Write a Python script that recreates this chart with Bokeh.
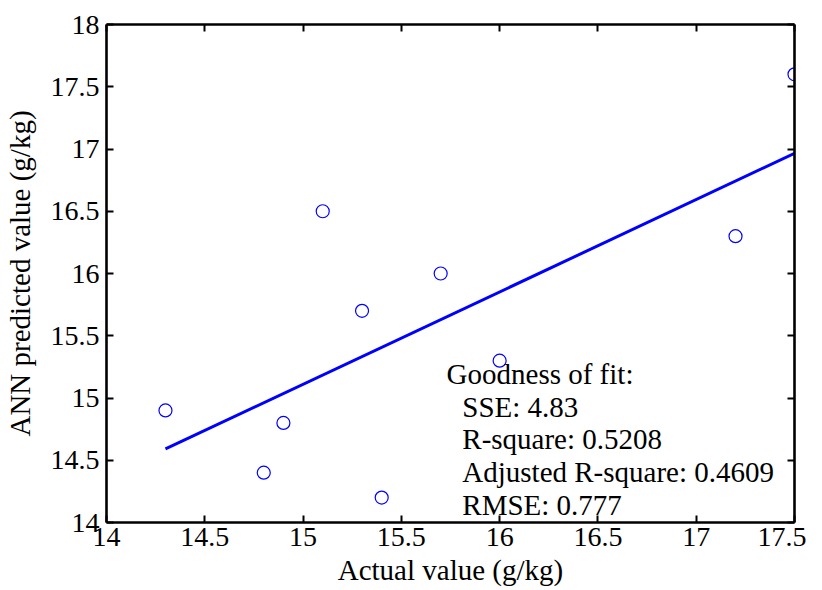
import numpy as np
from bokeh.plotting import figure
from bokeh.models import LinearAxis, FixedTicker, Range1d, Label, CustomLabelingPolicy
from bokeh.embed import file_html
from bokeh.resources import INLINE

# Data
actual = [14.3, 14.8, 14.9, 15.1, 15.3, 15.4, 15.7, 16.0, 17.2, 17.5]
predicted = [14.9, 14.4, 14.8, 16.5, 15.7, 14.2, 16.0, 15.3, 16.3, 17.6]
x_ticks = [14, 14.5, 15, 15.5, 16, 16.5, 17, 17.5]
y_ticks = [14, 14.5, 15, 15.5, 16, 16.5, 17, 17.5, 18]
fit_lines = ["Goodness of fit:", "SSE: 4.83", "R-square: 0.5208",
             "Adjusted R-square: 0.4609", "RMSE: 0.777"]

FONT = "Liberation Serif"
TICK_FS = "28px"
LAB_FS = "29px"

p = figure(width=806, height=590, output_backend="svg", toolbar_location=None,
           x_range=Range1d(14, 17.5), y_range=Range1d(14, 18),
           min_border_left=99, min_border_top=24, min_border_right=12,
           min_border_bottom=68, background_fill_color="white",
           border_fill_color="white")
p.grid.visible = False
p.outline_line_color = None

# fitted line (least squares from the data)
slope, intercept = np.polyfit(actual, predicted, 1)
xf = np.array([min(actual), max(actual)])
p.line(xf, slope * xf + intercept, line_color="#0000ff", line_width=3)

p.scatter(actual, predicted, marker="circle", size=13, fill_color=None,
          line_color="#0000ff", line_width=1.2)

def style(ax, labels=True):
    ax.axis_line_color = "black"
    ax.axis_line_width = 2.6
    ax.major_tick_line_color = "black"
    ax.major_tick_line_width = 2
    ax.major_tick_in = 7
    ax.major_tick_out = 0
    ax.minor_tick_line_color = None
    ax.major_label_text_font = FONT
    ax.major_label_text_font_style = "normal"
    ax.major_label_text_color = "black"
    ax.axis_label_text_font = FONT
    ax.axis_label_text_font_size = LAB_FS
    ax.axis_label_text_font_style = "normal"
    ax.axis_label_text_color = "black"
    if labels:
        ax.major_label_text_font_size = TICK_FS
    else:
        ax.major_label_text_font_size = "0px"
        ax.major_label_standoff = 0
        ax.major_label_policy = CustomLabelingPolicy(code="return new Set()")

style(p.xaxis[0])
p.xaxis[0].ticker = FixedTicker(ticks=x_ticks)
p.xaxis[0].major_label_standoff = 5
p.xaxis[0].axis_label = "Actual value (g/kg)"
p.xaxis[0].axis_label_standoff = 5

style(p.yaxis[0])
p.yaxis[0].ticker = FixedTicker(ticks=y_ticks)
p.yaxis[0].major_label_standoff = 7
p.yaxis[0].axis_label = "ANN predicted value (g/kg)"
p.yaxis[0].axis_label_standoff = 12

top = LinearAxis(ticker=FixedTicker(ticks=x_ticks))
style(top, labels=False)
p.add_layout(top, "above")
right = LinearAxis(ticker=FixedTicker(ticks=y_ticks))
style(right, labels=False)
p.add_layout(right, "right")

# goodness of fit annotation
tx = [15.73, 15.81, 15.81, 15.81, 15.81]
ty = [15.196, 14.931, 14.674, 14.409, 14.144]
for t, x, y in zip(fit_lines, tx, ty):
    p.add_layout(Label(x=x, y=y, text=t, text_font=FONT, text_font_size=LAB_FS,
                       text_color="black", text_baseline="alphabetic"))

open("out.html", "w").write(file_html(p, INLINE))
